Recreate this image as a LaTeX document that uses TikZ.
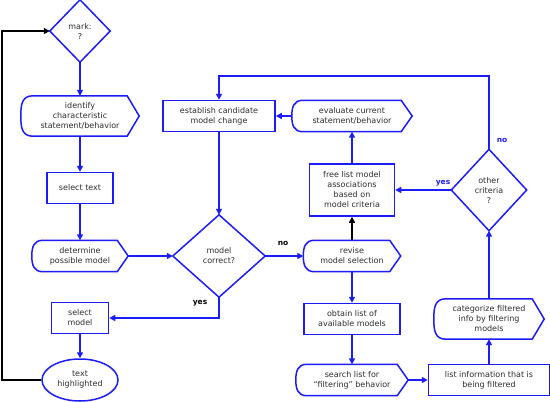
\documentclass[tikz,border=0pt]{standalone}
\usepackage{fontspec}
\setmainfont{DejaVu Sans}
\usetikzlibrary{arrows.meta,shapes.geometric}
\definecolor{bl}{RGB}{28,28,250}
\definecolor{txt}{RGB}{45,45,45}
\newcommand\dispoutline[2]{\draw[shp] ([xshift=#2]#1.north west) -- ([xshift=-#2]#1.north east) -- (#1.east) -- ([xshift=-#2]#1.south east) -- ([xshift=#2]#1.south west) to[out=180,in=-90,looseness=1.2] (#1.west) to[out=90,in=180,looseness=1.2] cycle;}
\newcommand\diaoutline[1]{\draw[shp] (#1.north) -- (#1.east) -- (#1.south) -- (#1.west) -- cycle;}
\tikzset{
  base/.style={inner sep=0pt, align=center, text=txt, font=\fontsize{8}{10}\selectfont},
  boxn/.style={base, draw=bl, line width=1.5pt},
  plain/.style={base},
  shp/.style={draw=bl, line width=1.5pt, line join=miter},
  arr/.style={draw=bl, line width=1.5pt, -{Triangle[length=6pt,width=6pt]}},
  karr/.style={draw=black, line width=1.5pt, -{Triangle[length=6pt,width=6pt]}},
  lblb/.style={font=\fontsize{7.5}{9}\selectfont\bfseries, text=bl, inner sep=0pt},
  lblk/.style={font=\fontsize{7.5}{9}\selectfont\bfseries, text=black, inner sep=0pt},
}
\begin{document}
\begin{tikzpicture}[x=1pt,y=-1pt]
\useasboundingbox[fill=white] (0,0) rectangle (550,402);
% nodes
\node[plain, minimum width=60, minimum height=62] (mark) at (80,31) {mark:\\?};
\node[plain, minimum width=118, minimum height=40] (ident) at (80,116) {identify\\characteristic\\statement/behavior};
\node[boxn, minimum width=66, minimum height=31] (seltext) at (80,188) {select text};
\node[plain, minimum width=96, minimum height=31] (determ) at (80,256) {determine\\possible model};
\node[plain, minimum width=92, minimum height=82] (corr) at (219,256) {model\\correct?};
\node[boxn, minimum width=57, minimum height=31] (selmod) at (80,318) {select\\model};
\node[base, draw=bl, line width=1.5pt, ellipse, minimum width=76, minimum height=42] (texthl) at (80,380) {text\\highlighted};
\node[boxn, minimum width=112, minimum height=31] (estab) at (219,116) {establish candidate\\model change};
\node[plain, minimum width=120, minimum height=31] (evalc) at (352,116) {evaluate current\\statement/behavior};
\node[boxn, minimum width=85, minimum height=52] (freel) at (352,190) {free list model\\associations\\based on\\model criteria};
\node[plain, minimum width=75, minimum height=81] (other) at (489,190) {other\\criteria\\?};
\node[plain, minimum width=97, minimum height=31] (revise) at (352,256) {revise\\model selection};
\node[boxn, minimum width=96, minimum height=31] (obtain) at (352,319) {obtain list of\\available models};
\node[plain, minimum width=112, minimum height=31] (search) at (352,380) {search list for\\``filtering'' behavior};
\node[boxn, minimum width=121, minimum height=31] (listinfo) at (489,380) {list information that is\\being filtered};
\node[plain, minimum width=110, minimum height=40] (categ) at (489,319) {categorize filtered\\info by filtering\\models};
% outlines
\diaoutline{mark}
\diaoutline{corr}
\diaoutline{other}
\dispoutline{ident}{12pt}
\dispoutline{determ}{11pt}
\dispoutline{evalc}{11pt}
\dispoutline{revise}{11pt}
\dispoutline{search}{11pt}
\dispoutline{categ}{12pt}
% helper coordinates
\coordinate (lp) at (2,0);
\coordinate (tp) at (0,76);
% connectors
\draw[arr] (mark.south) -- (ident.north);
\draw[arr] (ident.south) -- (seltext.north);
\draw[arr] (seltext.south) -- (determ.north);
\draw[arr] (determ.east) -- (corr.west);
\draw[arr] (corr.south) |- (selmod.east);
\draw[arr] (selmod.south) -- (texthl.north);
\draw[karr] (texthl.west) -- (texthl.west -| lp) -- (mark.west -| lp) -- (mark.west);
\draw[arr] (estab.south) -- (corr.north);
\draw[arr] (corr.east) -- (revise.west);
\draw[karr] (revise.north) -- (freel.south);
\draw[arr] (freel.north) -- (evalc.south);
\draw[arr] (evalc.west) -- (estab.east);
\draw[arr] (revise.south) -- (obtain.north);
\draw[arr] (obtain.south) -- (search.north);
\draw[arr] (search.east) -- (listinfo.west);
\draw[arr] (listinfo.north) -- (categ.south);
\draw[arr] (categ.north) -- (other.south);
\draw[arr] (other.west) -- (freel.east);
\draw[arr] (other.north) -- (other.north |- tp) -- (estab.north |- tp) -- (estab.north);
% labels
\node[lblk] (yes1) at (200,303) {yes};
\node[lblk] (no1) at (283,243) {no};
\node[lblb] (yes2) at (443,183) {yes};
\node[lblb] (no2) at (502,140) {no};
\end{tikzpicture}
\end{document}
